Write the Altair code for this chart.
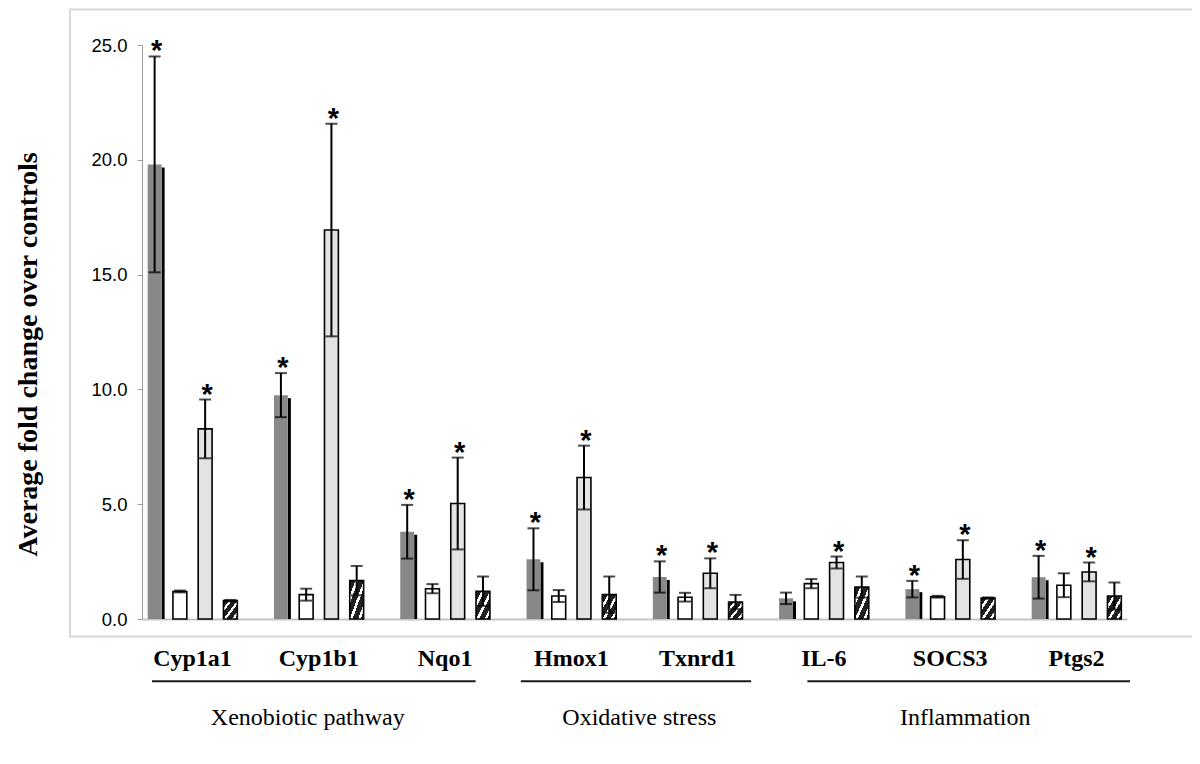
import altair as alt
import pandas as pd

# ---- data ----
genes = ["Cyp1a1", "Cyp1b1", "Nqo1", "Hmox1", "Txnrd1", "IL-6", "SOCS3", "Ptgs2"]
series = ["S1", "S2", "S3", "S4"]

mean_s1 = [19.8, 9.75, 3.8, 2.6, 1.83, 0.9, 1.3, 1.82]
err_s1 = [4.7, 0.96, 1.17, 1.35, 0.68, 0.25, 0.36, 0.93]
sig_s1 = [1, 1, 1, 1, 1, 0, 1, 1]

mean_s2 = [1.2, 1.06, 1.32, 1.0, 0.95, 1.54, 0.97, 1.47]
err_s2 = [0.04, 0.26, 0.2, 0.26, 0.19, 0.2, 0.04, 0.52]
sig_s2 = [0, 0, 0, 0, 0, 0, 0, 0]

mean_s3 = [8.28, 16.94, 5.03, 6.16, 1.99, 2.46, 2.59, 2.05]
err_s3 = [1.28, 4.63, 2.0, 1.39, 0.65, 0.26, 0.84, 0.41]
sig_s3 = [1, 1, 1, 1, 1, 1, 1, 1]

mean_s4 = [0.8, 1.67, 1.21, 1.06, 0.74, 1.39, 0.91, 1.0]
err_s4 = [0.03, 0.64, 0.64, 0.79, 0.31, 0.46, 0.03, 0.59]
sig_s4 = [0, 0, 0, 0, 0, 0, 0, 0]

y_ticks = [0, 5, 10, 15, 20, 25]

groups = ["Xenobiotic pathway", "Oxidative stress", "Inflammation"]
group_start = ["Cyp1a1", "Hmox1", "IL-6"]
group_end = ["Nqo1", "Txnrd1", "Ptgs2"]
group_anchor = ["Cyp1b1", "Hmox1", "SOCS3"]

y_title = "Average fold change over controls"

# ---- build tables ----
rows = []
for s, m, e, g in zip(series,
                      [mean_s1, mean_s2, mean_s3, mean_s4],
                      [err_s1, err_s2, err_s3, err_s4],
                      [sig_s1, sig_s2, sig_s3, sig_s4]):
    for gene, mv, ev, sv in zip(genes, m, e, g):
        rows.append({"gene": gene, "series": s, "mean": mv,
                     "lo": mv - ev, "hi": mv + ev, "sig": sv})
df = pd.DataFrame(rows)
gdf = pd.DataFrame({"group": groups, "start": group_start,
                    "end": group_end, "anchor": group_anchor})

# ---- scales ----
xscale = alt.Scale(domain=genes, paddingInner=0.2, paddingOuter=0)
xoscale = alt.Scale(domain=series, paddingInner=0.45, paddingOuter=0.225)
yscale = alt.Scale(domain=[0, 25], nice=False)

x_axis = alt.Axis(labelFont="Liberation Serif", labelFontWeight="bold",
                  labelFontSize=24, labelColor="#000000", labelPadding=27,
                  labelAngle=0, labelAlign="center", labelBaseline="top",
                  bandPosition=0.5, ticks=False, domainColor="#c4c4c4",
                  domainWidth=2)
y_axis = alt.Axis(values=y_ticks, format=".1f", grid=False,
                  domainColor="#9a9a9a", tickColor="#9a9a9a", tickSize=5,
                  labelFont="Liberation Sans", labelFontSize=18.5,
                  labelColor="#000000", labelPadding=10,
                  titleFont="Liberation Serif", titleFontSize=28,
                  titleFontWeight="bold", titleColor="#000000",
                  titleAngle=270, titleAlign="center", titleX=-100, titleY=309)

X = alt.X("gene:N", scale=xscale, sort=genes, axis=x_axis, title=None)
Xp = alt.X("gene:N", scale=xscale, sort=genes, title=None)
XO = alt.XOffset("series:N", scale=xoscale, sort=series)
Ybar = alt.Y("mean:Q", scale=yscale, axis=y_axis, title=y_title)
Yb = alt.Y("mean:Q", scale=yscale, title=y_title)

base = alt.Chart(df)

# chart frame (decoration)
frame = alt.Chart(pd.DataFrame({"k": [0]})).mark_rect(
    fillOpacity=0, stroke="#d8d8d8", strokeWidth=2
).encode(x=alt.value(-72), x2=alt.value(1120), y=alt.value(-35.5), y2=alt.value(591.5))

# dark right-hand shadow of the grey bars
shadow = base.transform_filter(alt.datum.series == "S1").mark_rule(
    color="#000000", strokeWidth=3, yOffset=3, y2Offset=0
).encode(x=alt.X("gene:N", scale=xscale, sort=genes, bandPosition=0.209, title=None),
         y=Yb, y2=alt.Y2(datum=0))

bar1 = base.transform_filter(alt.datum.series == "S1").mark_bar(
    color="#888888"
).encode(x=X, xOffset=XO, y=Ybar)

bar2 = base.transform_filter(alt.datum.series == "S2").mark_bar(
    fill="#ffffff", stroke="#000000", strokeWidth=1.6
).encode(x=Xp, xOffset=XO, y=Yb)

bar3 = base.transform_filter(alt.datum.series == "S3").mark_bar(
    fill="#e3e3e3", stroke="#000000", strokeWidth=1.6
).encode(x=Xp, xOffset=XO, y=Yb)

dark = "#202020"
stops = []
for a, b in [(0.0, 0.2), (0.3, 0.5), (0.6, 0.8), (0.9, 1.0)]:
    stops.append(alt.GradientStop(offset=a, color=dark))
    stops.append(alt.GradientStop(offset=b, color=dark))
    if b < 1.0:
        stops.append(alt.GradientStop(offset=b, color="#ffffff"))
        stops.append(alt.GradientStop(offset=b + 0.1, color="#ffffff"))
hatch = alt.LinearGradient(gradient="linear", stops=stops, x1=0, y1=0, x2=1, y2=1)

bar4 = base.transform_filter(alt.datum.series == "S4").mark_bar(
    fill=hatch, stroke="#000000", strokeWidth=1.6
).encode(x=Xp, xOffset=XO, y=Yb)

err = base.mark_rule(color="#000000", strokeWidth=2).encode(
    x=Xp, xOffset=XO,
    y=alt.Y("lo:Q", scale=yscale, title=y_title), y2="hi:Q")

cap_hi = base.mark_tick(color="#000000", thickness=2, size=12).encode(
    x=Xp, xOffset=XO, y=alt.Y("hi:Q", scale=yscale, title=y_title))
cap_lo = base.mark_tick(color="#000000", thickness=2, size=12).encode(
    x=Xp, xOffset=XO, y=alt.Y("lo:Q", scale=yscale, title=y_title))

stars = base.transform_filter(alt.datum.sig == 1).mark_text(
    text="*", font="Liberation Sans", fontWeight="bold", fontSize=29,
    color="#000000", dx=2, dy=4, baseline="alphabetic", align="center"
).encode(x=Xp, xOffset=XO, y=alt.Y("hi:Q", scale=yscale, title=y_title))

line_offsets = [(10, -20), (0, 3), (34, 3)]
label_dx = [-11, 68, 15]
ann = []
for i in range(len(groups)):
    sub = alt.Chart(gdf.iloc[[i]])
    ann.append(sub.mark_rule(color="#1a1a1a", strokeWidth=2,
                             xOffset=line_offsets[i][0],
                             x2Offset=line_offsets[i][1]).encode(
        x=alt.X("start:N", scale=xscale, sort=genes, bandPosition=0, title=None),
        x2=alt.X2("end:N", bandPosition=1),
        y=alt.value(636.3)))
    ann.append(sub.mark_text(font="Liberation Serif", fontSize=24,
                             color="#000000", baseline="alphabetic",
                             align="center", dx=label_dx[i]).encode(
        x=alt.X("anchor:N", scale=xscale, sort=genes, title=None),
        y=alt.value(679.5),
        text="group:N"))

chart = alt.layer(frame, shadow, bar1, bar2, bar3, bar4, err, cap_hi, cap_lo,
                  stars, *ann).properties(
    width=985, height=574,
    autosize=alt.AutoSizeParams(type="none"),
    padding={"left": 134, "top": 37, "right": 65, "bottom": 130},
).configure_view(strokeWidth=0)

chart.save("out.html", embed_options={"renderer": "svg", "actions": False})
